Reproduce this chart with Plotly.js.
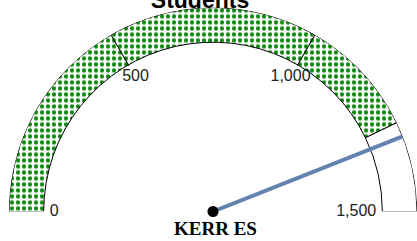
<!DOCTYPE html>
<html>
<head>
<meta charset="utf-8">
<script src="https://cdn.plot.ly/plotly-3.0.1.min.js"></script>
<style>
html,body{margin:0;padding:0;background:#fff;overflow:hidden;}
#chart{width:417px;height:241px;}
</style>
</head>
<body>
<div id="chart"></div>
<script>
// ---- data ----
var chartTitle = "Students";
var schoolName = "KERR ES";
var axisMin = 0;
var axisMax = 1500;
var tickValues = [0, 500, 1000, 1500];
var tickLabels = ["0", "500", "1,000", "1,500"];
var bandFrom = [0, 1285];
var bandTo = [1285, 1500];
var needleValue = 1320;

// ---- scale: value -> degrees along the half circle ----
function toDeg(v) { return (v - axisMin) / (axisMax - axisMin) * 180; }

var innerR = 0.83, outerR = 1.0;

var bandStyles = [
  {color: "white", pattern: {shape: ".", fgcolor: "#0c880c", bgcolor: "white", size: 6, solidity: 0.4}},
  {color: "white"}
];

var traces = [];
bandFrom.forEach(function (f, i) {
  var t = bandTo[i];
  traces.push({
    type: "barpolar",
    theta: [toDeg((f + t) / 2)],
    width: [toDeg(t) - toDeg(f)],
    base: [innerR],
    r: [outerR - innerR],
    marker: Object.assign({line: {color: "#000", width: 1}}, bandStyles[i]),
    hoverinfo: "skip",
    showlegend: false
  });
});

// tick labels (drawn inside the arc)
traces.push({
  type: "scatterpolar",
  mode: "text",
  theta: tickValues.map(toDeg),
  r: tickValues.map(function (v) { return (v === axisMin || v === axisMax) ? 0.80 : 0.76; }),
  text: tickLabels,
  textposition: tickValues.map(function (v) {
    return v === axisMin ? "middle right" : (v === axisMax ? "middle left" : "middle center");
  }),
  textfont: {family: "Liberation Sans, Arial, sans-serif", size: 16, color: "#222"},
  cliponaxis: false,
  hoverinfo: "skip",
  showlegend: false
});

// needle
traces.push({
  type: "scatterpolar",
  mode: "lines",
  theta: [toDeg(needleValue), toDeg(needleValue)],
  r: [0, 1.03],
  line: {color: "#6482b0", width: 4},
  cliponaxis: false,
  hoverinfo: "skip",
  showlegend: false
});
// pivot
traces.push({
  type: "scatterpolar",
  mode: "markers",
  theta: [0],
  r: [0],
  marker: {color: "#000", size: 11},
  cliponaxis: false,
  hoverinfo: "skip",
  showlegend: false
});

var layout = {
  width: 417,
  height: 241,
  margin: {l: 0, r: 0, t: 0, b: 0},
  paper_bgcolor: "#fff",
  showlegend: false,
  title: {
    text: "<b>" + chartTitle + "</b>",
    font: {family: "Liberation Sans, Arial, sans-serif", size: 23, color: "#000"},
    x: 200 / 417, xref: "container", xanchor: "center",
    y: 1.0, yref: "container", yanchor: "middle"
  },
  polar: {
    domain: {x: [9 / 417, 1], y: [29 / 241, 234 / 241]},
    sector: [0, 180],
    bgcolor: "rgba(0,0,0,0)",
    radialaxis: {range: [0, 1], visible: false},
    angularaxis: {
      direction: "clockwise",
      rotation: 180,
      showgrid: false,
      showline: false,
      ticks: "inside",
      ticklen: 35,
      tickwidth: 1,
      tickcolor: "#000",
      tickvals: [500, 1000].map(toDeg),
      showticklabels: false,
      layer: "above traces"
    }
  },
  annotations: [{
    text: "<b>" + schoolName + "</b>",
    xref: "paper", yref: "paper",
    x: 215 / 417, y: (241 - 228.5) / 241,
    xanchor: "center", yanchor: "middle",
    showarrow: false,
    font: {family: "Liberation Serif, Times New Roman, serif", size: 19, color: "#000"}
  }]
};

Plotly.newPlot("chart", traces, layout, {staticPlot: true, displayModeBar: false});
</script>
</body>
</html>
